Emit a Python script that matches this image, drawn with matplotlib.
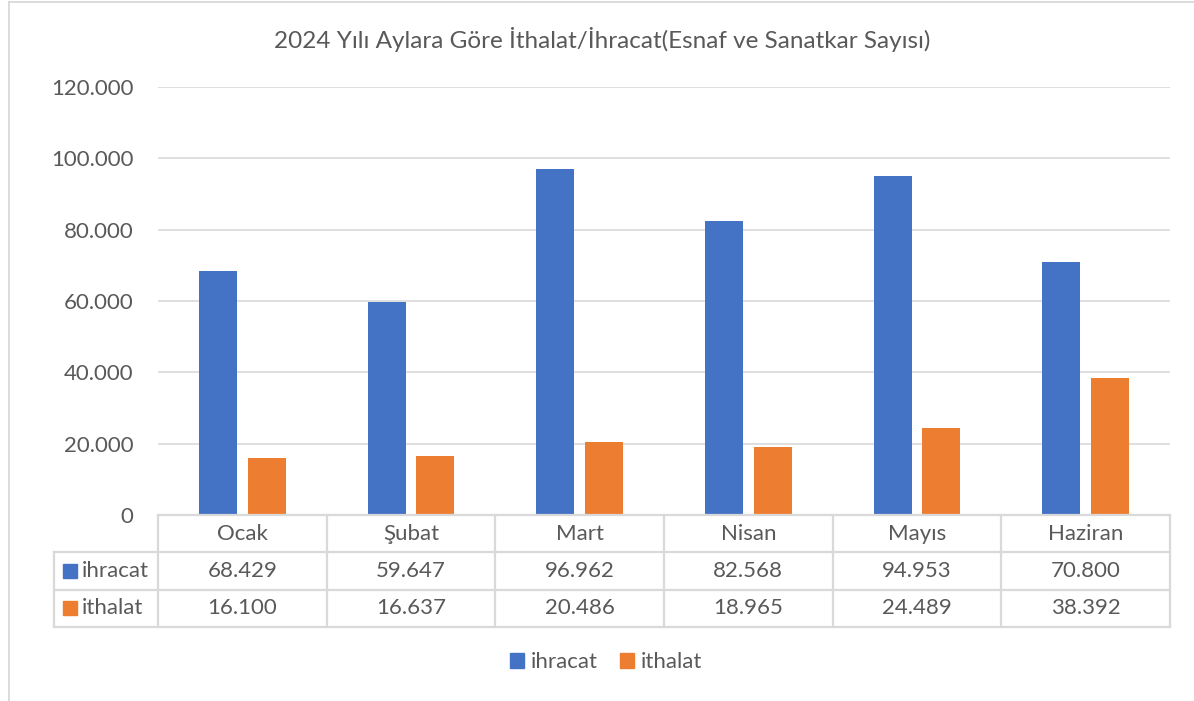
import matplotlib.pyplot as plt
from matplotlib.patches import Rectangle
import numpy as np

plt.rcParams['font.family'] = ['Lato', 'DejaVu Sans']

# data
months = ['Ocak', 'Şubat', 'Mart', 'Nisan', 'Mayıs', 'Haziran']
ihracat = [68429, 59647, 96962, 82568, 94953, 70800]
ithalat = [16100, 16637, 20486, 18965, 24489, 38392]
series_names = ['ihracat', 'ithalat']
yticks = [0, 20000, 40000, 60000, 80000, 100000, 120000]
title = '2024 Yılı Aylara Göre İthalat/İhracat(Esnaf ve Sanatkar Sayısı)'

blue = '#4472C4'
orange = '#ED7D31'
txt = '#595959'
grid = '#D9D9D9'
fs = 16

W, H = 1194, 701
fig = plt.figure(figsize=(W / 100, H / 100), dpi=100)

def px_axes(x0, y0, x1, y1):
    # pixel box (top-left origin) -> figure fraction
    return fig.add_axes([x0 / W, 1 - y1 / H, (x1 - x0) / W, (y1 - y0) / H])

def fmt(v):
    return f'{v:,.0f}'.replace(',', '.')

# chart border (left/top visible)
fig.add_artist(plt.Line2D([9 / W, 9 / W], [0, 1 - 2 / H], color=grid, lw=1.3, transform=fig.transFigure))
fig.add_artist(plt.Line2D([9 / W, 1], [1 - 2 / H, 1 - 2 / H], color=grid, lw=1.3, transform=fig.transFigure))

# main bar axes
ax = px_axes(158, 87, 1170, 515)
x = np.arange(len(months))
bw = 0.225
ax.bar(x - 0.145, ihracat, bw, color=blue, zorder=3)
ax.bar(x + 0.145, ithalat, bw, color=orange, zorder=3)
ax.set_xlim(-0.5, len(months) - 0.5)
ax.set_ylim(0, 120000)
ax.set_yticks(yticks)
ax.set_yticklabels([fmt(v) for v in yticks], fontsize=fs, color=txt)
ax.tick_params(axis='y', length=0, pad=17.5)
ax.set_xticks([])
ax.yaxis.grid(True, color=grid, lw=1.2, zorder=0)
for s in ax.spines.values():
    s.set_visible(False)
fig.text(602 / W, 1 - 40 / H, title, ha='center', va='center', fontsize=17.5, color=txt)

# data table below the plot
unit = (1170 - 158) / len(months)
left_units = (158 - 54) / unit
tax = px_axes(54, 515, 1170, 627)
tax.set_xlim(-0.5 - left_units, len(months) - 0.5)
tax.set_ylim(3, 0)
tax.axis('off')
lk = dict(color=grid, lw=1.6, clip_on=False)
xl = -0.5 - left_units
# header row lines
tax.plot([-0.5, len(months) - 0.5], [0, 0], **lk)
for r in [1, 2, 3]:
    tax.plot([xl, len(months) - 0.5], [r, r], **lk)
for i in range(len(months) + 1):
    tax.plot([i - 0.5, i - 0.5], [0, 3], **lk)
tax.plot([xl, xl], [1, 3], **lk)
for i, m in enumerate(months):
    tax.text(i, 0.5, m, ha='center', va='center', fontsize=fs, color=txt)
    tax.text(i, 1.5, fmt(ihracat[i]), ha='center', va='center', fontsize=fs, color=txt)
    tax.text(i, 2.5, fmt(ithalat[i]), ha='center', va='center', fontsize=fs, color=txt)
for r, (name, c) in enumerate(zip(series_names, [blue, orange])):
    sq = 14 / unit
    tax.add_patch(Rectangle((xl + 9 / unit, 1.5 + r - 0.19), sq, 0.38, color=c, clip_on=False))
    tax.text(xl + 28 / unit, 1.5 + r, name, ha='left', va='center', fontsize=fs, color=txt)

# legend
handles = [Rectangle((0, 0), 1, 1, color=blue), Rectangle((0, 0), 1, 1, color=orange)]
fig.legend(handles, series_names, loc='center', bbox_to_anchor=(606 / W, 1 - 662 / H),
           ncol=2, frameon=False, fontsize=fs, labelcolor=txt, handlelength=0.65,
           handleheight=0.65, handletextpad=0.3, columnspacing=1.0)

fig.savefig('out.png', dpi=100)
